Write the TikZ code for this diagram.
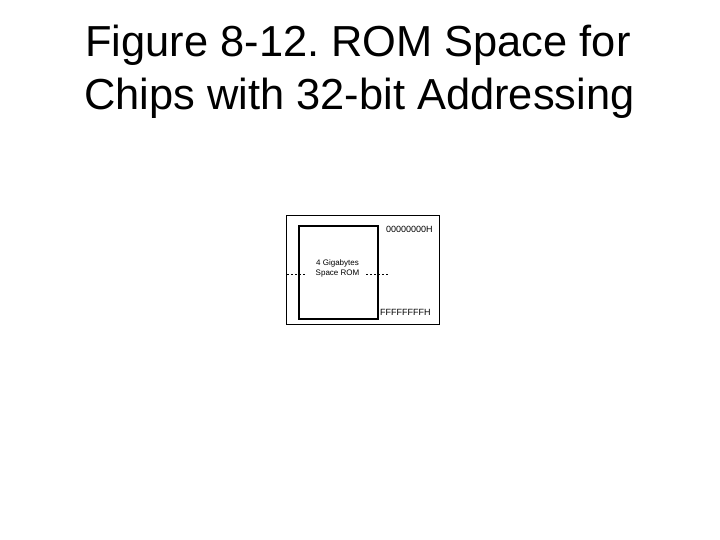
\documentclass[tikz,border=0pt]{standalone}
\usepackage{fontspec}
\setmainfont{Liberation Sans}
\frenchspacing
\begin{document}
\begin{tikzpicture}[x=1bp,y=-1bp,
  title/.style={font=\fontsize{43.4bp}{54bp}\selectfont, align=center, inner sep=0pt},
  small/.style={font=\fontsize{8bp}{10bp}\selectfont, inner sep=0pt},
  addr/.style={font=\fontsize{9bp}{11bp}\selectfont, inner sep=0pt},
  frame/.style={draw=black, line width=0.8bp},
  romrect/.style={draw=black, line width=1.6bp},
  dashline/.style={draw=black, line width=0.5bp, dash pattern=on 2bp off 2bp}]
\useasboundingbox (0,0) rectangle (720,540);
\node[title, anchor=base] (t1) at (358,57) {Figure 8-12. ROM Space for};
\node[title, anchor=base] (t2) at (359.5,110) {Chips with 32-bit Addressing};
\node[frame, minimum width=153bp, minimum height=109bp, anchor=north west] (outer) at (286,215) {};
\node[romrect, minimum width=79bp, minimum height=93bp, anchor=north west] (rom) at (298,225) {};
\node[small, align=center] (lbl) at (337.5,268.5) {4 Gigabytes\\Space ROM};
\coordinate (l0) at (287,274);
\coordinate (l1) at (306,274);
\coordinate (r0) at (366,274);
\coordinate (r1) at (388,274);
\draw[dashline] (l0) -- (l1);
\draw[dashline] (r0) -- (r1);
\node[addr, anchor=west] (top) at (386,229) {00000000H};
\node[addr, anchor=west] (bot) at (380,312) {FFFFFFFFH};
\end{tikzpicture}
\end{document}
